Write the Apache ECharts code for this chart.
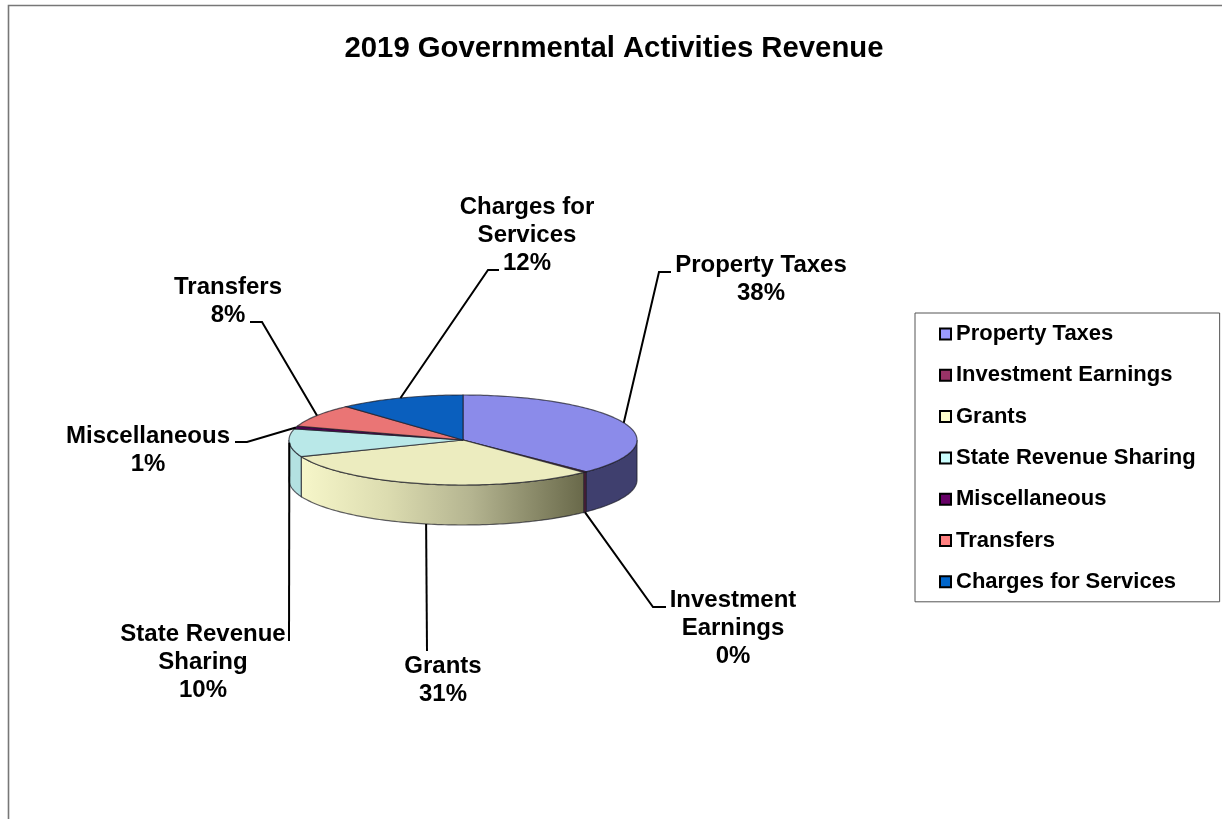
<!DOCTYPE html>
<html>
<head>
<meta charset="utf-8">
<style>html,body{margin:0;padding:0;background:#fff}#c{width:1222px;height:819px}</style>
<script src="https://cdn.jsdelivr.net/npm/echarts@6/dist/echarts.min.js"></script>
</head>
<body>
<div id="c"></div>
<script>
const chartTitle = '2019 Governmental Activities Revenue';
const categories = ['Property Taxes','Investment Earnings','Grants','State Revenue Sharing','Miscellaneous','Transfers','Charges for Services'];
const values = [37.5, 0.3, 31.2, 10, 1, 8.3, 11.7];
const labelLines = ['Property Taxes','Investment\nEarnings','Grants','State Revenue\nSharing','Miscellaneous','Transfers','Charges for\nServices'];

const legendColors = ['#9999ff','#993366','#ffffcc','#ccffff','#660066','#ff8080','#0066cc'];
const topColors = ['#8b8bea','#8a2e5c','#ececbf','#b9e8e8','#4f0050','#ea7575','#0a5fbe'];
const FONT = '"Liberation Sans", Arial, sans-serif';

// layout only
const PIE = {cx:463, cy:440, rx:174, ry:45, depth:40};
const labelCenters = [[761,279],[733,628],[443,680],[203,662],[148,450],[228,301],[527,235]];
const leaderElbows = [
  [[659,272],[671,272]],
  [[653,607],[666,607]],
  [[427,651]],
  [[289,641]],
  [[247,442],[235,442]],
  [[262,322],[250,322]],
  [[488,270],[499,270]]
];

const total = values.reduce((a,b)=>a+b,0);
const starts = [];
values.reduce((acc,v,i)=>{starts[i]=acc;return acc+v;},0);
const toAngle = v => v/total*Math.PI*2;
const onRim = (a,dy) => [PIE.cx+PIE.rx*Math.sin(a), PIE.cy-PIE.ry*Math.cos(a)+(dy||0)];

function wallFill(i){
  if(i===0) return '#3f3f6e';
  if(i===2) return new echarts.graphic.LinearGradient(302,0,585,0,[
    {offset:0,color:'#f6f6c9'},{offset:0.3,color:'#dcdcb0'},{offset:0.6,color:'#b4b490'},{offset:1,color:'#686849'}],true);
  return i===1 ? '#5a1f3e' : '#b3e1e1';
}

function renderSlice(params, api){
  const i = params.seriesIndex;
  const a0 = toAngle(starts[i]), a1 = a0+toAngle(api.value(0));
  const kids = [];
  const lo = Math.max(a0,Math.PI/2), hi = Math.min(a1,Math.PI*1.5);
  const stroke = {stroke:'rgba(30,30,40,0.7)',lineWidth:1.2};
  if(hi>lo){
    const up=[],down=[];
    const n=Math.max(2,Math.ceil((hi-lo)/0.02));
    for(let k=0;k<=n;k++){
      const a=lo+(hi-lo)*k/n;
      up.push(onRim(a)); down.unshift(onRim(a,PIE.depth));
    }
    kids.push({type:'polygon',shape:{points:up.concat(down)},style:Object.assign({fill:wallFill(i)},stroke),silent:true});
  }
  const pts=[[PIE.cx,PIE.cy]];
  const m=Math.max(2,Math.ceil((a1-a0)/0.02));
  for(let k=0;k<=m;k++) pts.push(onRim(a0+(a1-a0)*k/m));
  kids.push({type:'polygon',shape:{points:pts},style:Object.assign({fill:topColors[i]},stroke),silent:true});

  const mid=(a0+a1)/2;
  const start=onRim(mid,Math.cos(mid)<-0.1?PIE.depth:0);
  kids.push({type:'polyline',shape:{points:[start].concat(leaderElbows[i])},
    style:{stroke:'#000',lineWidth:2,fill:null},silent:true,z2:5});
  const pct=Math.round(api.value(0)/total*100)+'%';
  kids.push({type:'text',silent:true,z2:6,style:{
    x:labelCenters[i][0],y:labelCenters[i][1],text:labelLines[i]+'\n'+pct,
    align:'center',verticalAlign:'middle',font:'bold 24px '+FONT,lineHeight:28,fill:'#000'}});
  return {type:'group',children:kids};
}

const chart = echarts.init(document.getElementById('c'),null,{renderer:'canvas'});
chart.setOption({
  animation:false,
  backgroundColor:'#fff',
  title:{text:chartTitle,left:609,top:29,textAlign:'center',
    textStyle:{fontFamily:FONT,fontWeight:'bold',fontSize:29.3,color:'#000'}},
  legend:{
    orient:'vertical',left:915,top:313,
    data:categories,
    icon:'rect',itemWidth:11,itemHeight:11,itemGap:19.3,
    padding:[10,24,9,24],
    backgroundColor:'#fff',borderColor:'#555',borderWidth:1,
    itemStyle:{borderColor:'#000',borderWidth:2},
    textStyle:{fontFamily:FONT,fontWeight:'bold',fontSize:22,color:'#000'}
  },
  graphic:[
    {type:'polyline',silent:true,shape:{points:[[8.5,819],[8.5,5.5],[1222,5.5]]},style:{stroke:'#777',lineWidth:1.6,fill:null}}
  ],
  series:categories.map((name,i)=>({
    type:'custom',name,coordinateSystem:'none',clip:false,
    itemStyle:{color:legendColors[i]},
    renderItem:renderSlice,
    data:[[values[i]]]
  }))
});
</script>
</body>
</html>
